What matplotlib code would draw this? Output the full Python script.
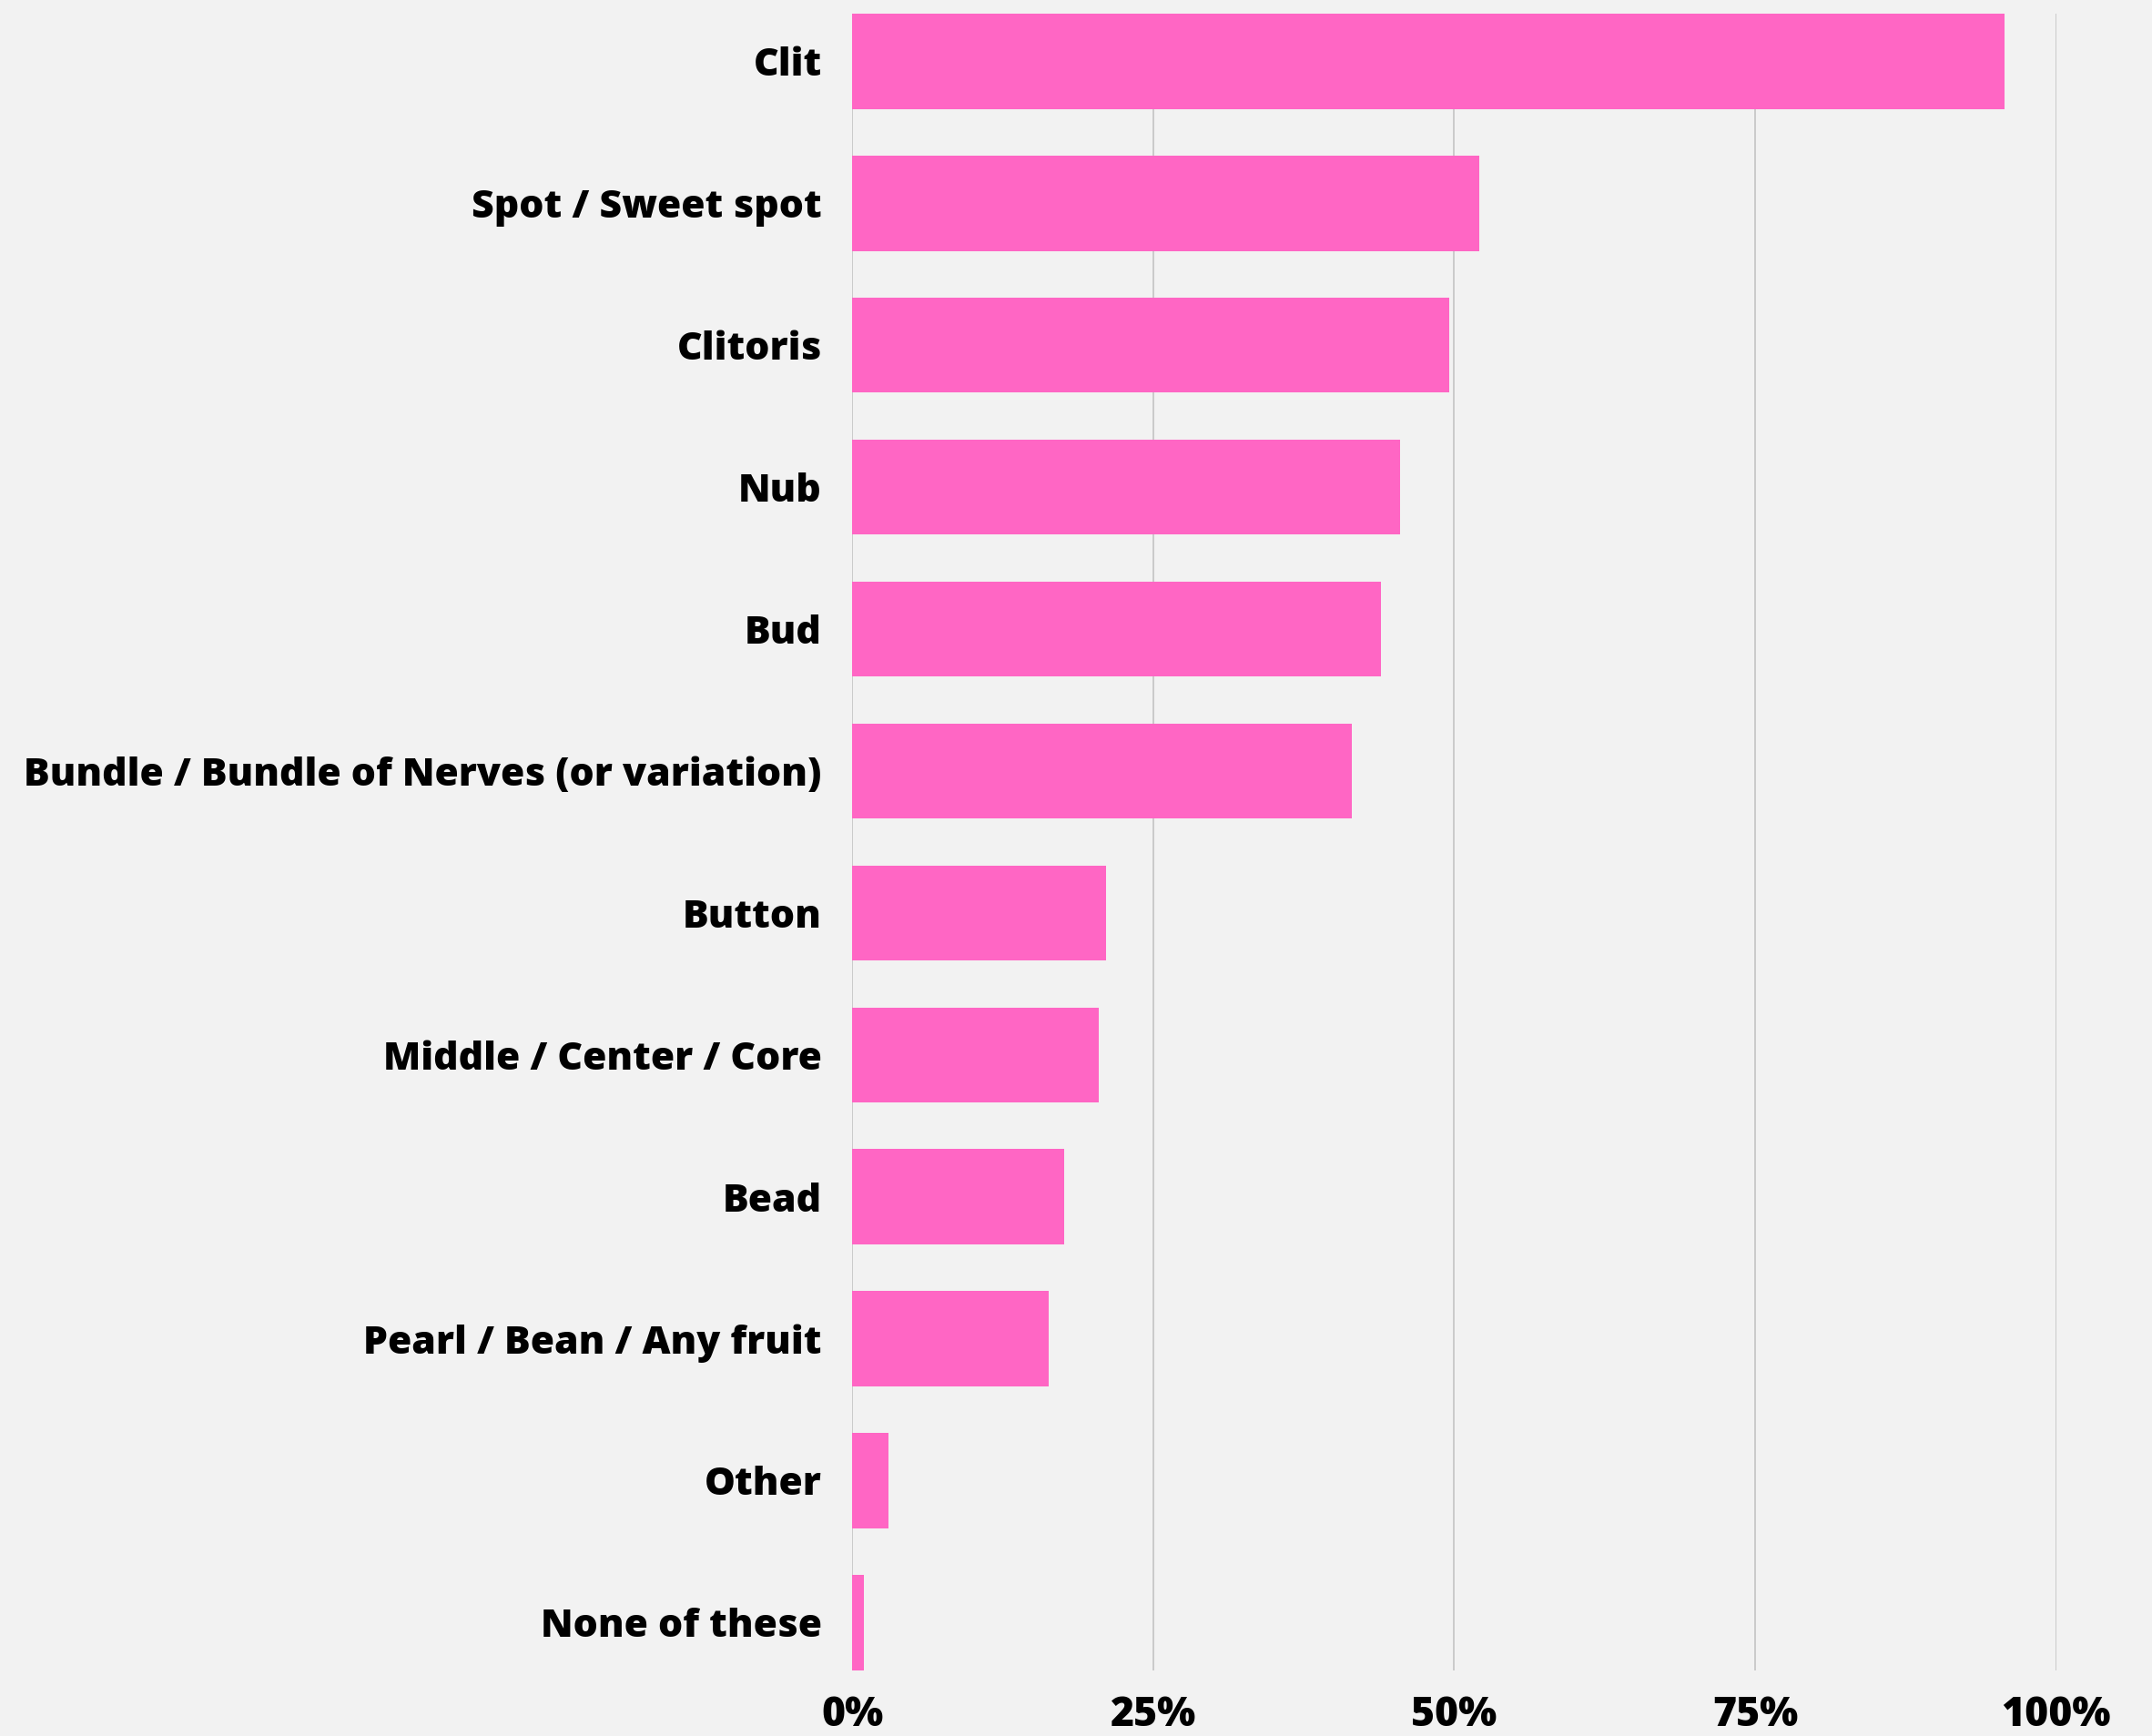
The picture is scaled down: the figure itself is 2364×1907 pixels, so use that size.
import matplotlib.pyplot as plt
from matplotlib.ticker import FuncFormatter

# Datos
categories = ['Clit', 'Spot / Sweet spot', 'Clitoris', 'Nub', 'Bud',
              'Bundle / Bundle of Nerves (or variation)', 'Button',
              'Middle / Center / Core', 'Bead', 'Pearl / Bean / Any fruit',
              'Other', 'None of these']
shares = [95.7, 52.1, 49.6, 45.5, 43.9, 41.5, 21.1, 20.5, 17.6, 16.3, 3.0, 1.0]
x_ticks = [0, 25, 50, 75, 100]

bg = '#F2F2F2'
pink = '#FF66C4'

plt.rcParams['font.family'] = ['Open Sans', 'DejaVu Sans']

fig = plt.figure(figsize=(23.64, 19.07), dpi=100, facecolor=bg)
ax = fig.add_axes([0.396, 0.038, 0.5595, 0.954])
ax.set_facecolor(bg)

pos = list(range(len(categories)))
ax.barh(pos, shares, height=0.67, color=pink, zorder=3)

ax.set_ylim(len(categories) - 1 + 0.335, -0.335)
ax.set_xlim(0, 100)
ax.set_xticks(x_ticks)
ax.xaxis.set_major_formatter(FuncFormatter(lambda v, p: f'{v:.0f}%'))
ax.set_yticks(pos)
ax.set_yticklabels(categories)

ax.grid(axis='x', color='#C4C4C4', linewidth=1.2, zorder=0)
for s in ax.spines.values():
    s.set_visible(False)
ax.tick_params(axis='both', length=0)
ax.tick_params(axis='y', pad=24, labelsize=30.8)
ax.tick_params(axis='x', pad=20, labelsize=32)
for lbl in ax.get_xticklabels() + ax.get_yticklabels():
    lbl.set_fontweight(800)

fig.savefig('out.png', dpi=100, facecolor=bg)
